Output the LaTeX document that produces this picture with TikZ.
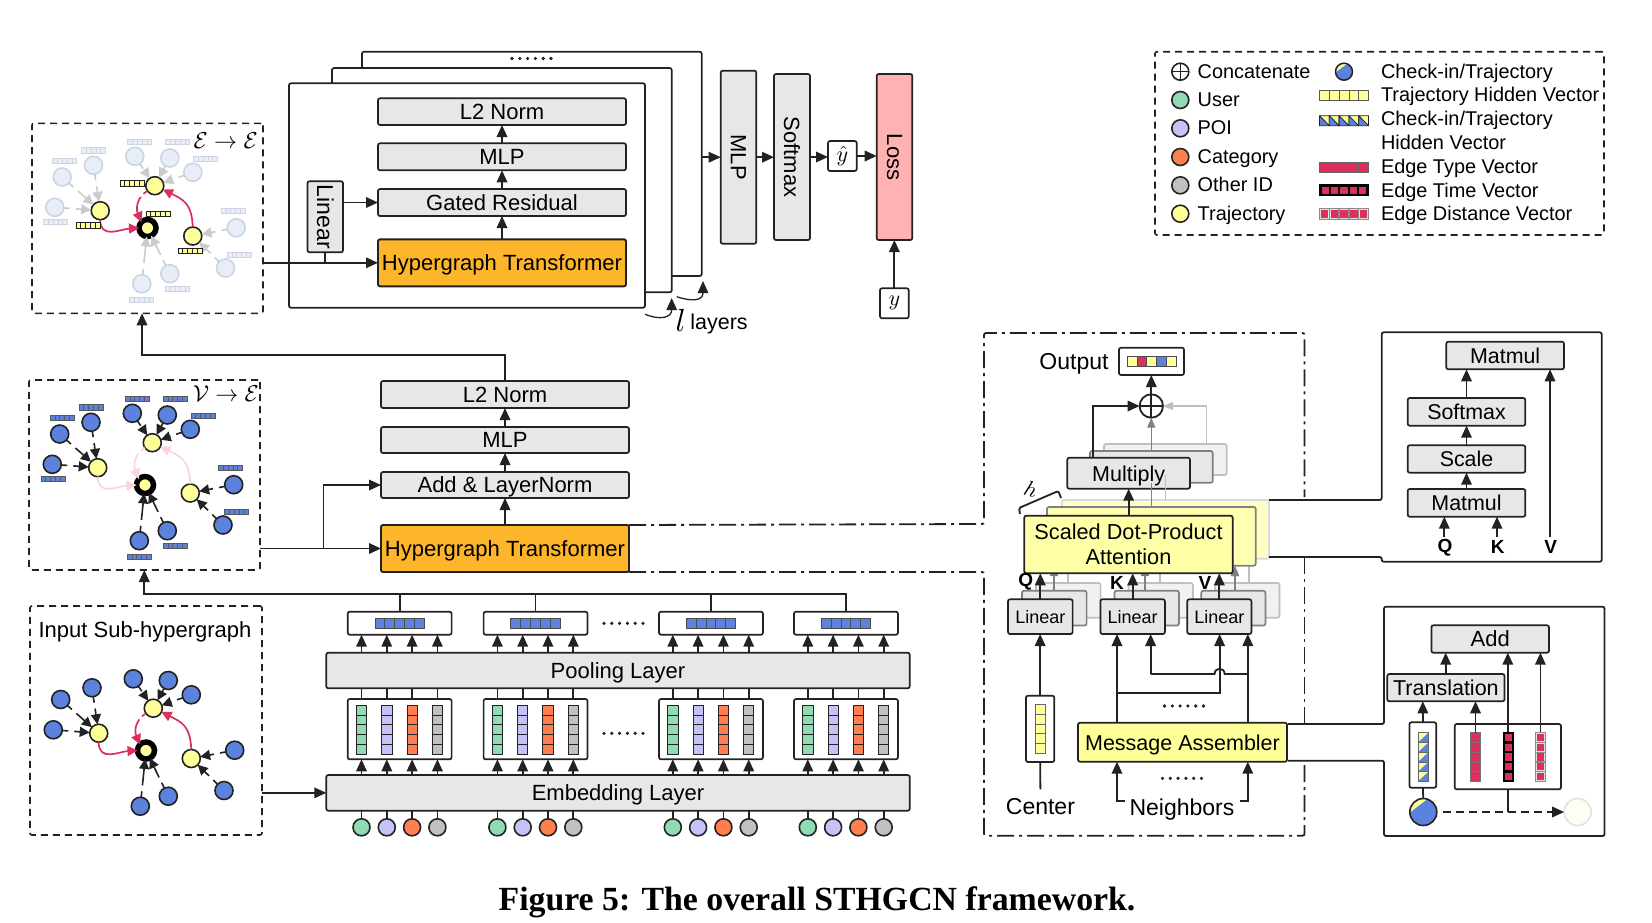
\documentclass[tikz,border=0pt]{standalone}
\usepackage{fontspec}
\setmainfont{Liberation Sans}
\newfontfamily\capfont{Liberation Serif}
\usetikzlibrary{arrows.meta,calc}
\definecolor{boxgray}{HTML}{E6E8E8}
\definecolor{lblack}{HTML}{222222}
\definecolor{orangeb}{HTML}{FDB52B}
\definecolor{cblue}{HTML}{5B82DC}
\definecolor{cyellow}{HTML}{FFFF99}
\definecolor{cuser}{HTML}{90DBB3}
\definecolor{cpoi}{HTML}{C4C2F7}
\definecolor{ccat}{HTML}{FF7F50}
\definecolor{cother}{HTML}{C0C0C0}
\definecolor{cred}{HTML}{DC2F5C}
\definecolor{fadeblue}{HTML}{E8EEF8}
\definecolor{fadeline}{HTML}{CDD5E4}
\definecolor{fadeedge}{HTML}{CCCCCC}
\definecolor{fadered}{HTML}{F9D5DC}
\newcommand{\myfs}[1]{\fontsize{#1}{#1}\selectfont}
\newcommand{\mth}[1]{\myfs{10}$#1$}
\tikzset{
  x=1pt,y=-1pt,
  base/.style={rectangle,rounded corners=2pt,line width=1.7pt,draw=lblack,inner sep=0pt,outer sep=0pt,align=center,anchor=north west},
  gbox/.style={base,fill=boxgray},
  wbox/.style={base,fill=white},
  obox/.style={base,fill=orangeb,line width=1.9pt},
  dbox/.style={base,dash pattern=on 7pt off 5pt,line width=1.6pt},
  sh2/.style={base,fill=boxgray,draw=gray},
  sh3/.style={base,fill=boxgray!60,draw=black!25},
  arr/.style={draw=lblack,line width=1.8pt,-{Triangle[length=12pt,width=10.5pt]}},
  garr/.style={draw=gray,line width=1.4pt,-{Triangle[length=10pt,width=8pt]}},
  larr/.style={draw=black!25,line width=1.4pt,-{Triangle[length=10pt,width=8pt]}},
  plain/.style={draw=lblack,line width=1.8pt},
  dd/.style={draw=lblack,line width=1.8pt,dash pattern=on 17pt off 5pt on 3pt off 5pt},
  dot/.style={circle,draw=lblack,line width=1.6pt,inner sep=0pt,minimum size=17pt,outer sep=0pt},
  lab/.style={inner sep=0pt,outer sep=0pt},
  dotsl/.style={draw=lblack,line width=3.6pt,line cap=round,dash pattern=on 0pt off 7.8pt},
}
% box: name x1 y1 x2 y2 style text
\newcommand{\bx}[7]{%
  \pgfmathsetmacro\bw{#4-#2}\pgfmathsetmacro\bh{#5-#3}%
  \node[#6,text depth=0pt,minimum width=\bw pt,minimum height=\bh pt] (#1) at (#2,#3) {#7};}
\newcommand{\bxr}[7]{%
  \pgfmathsetmacro\bw{#4-#2}\pgfmathsetmacro\bh{#5-#3}%
  \node[#6,minimum width=\bw pt,minimum height=\bh pt] (#1) at (#2,#3) {#7};}
% five-cell vectors: cx cy w h fill draw lw
\newcommand{\vecH}[7]{\begin{scope}[shift={(#1,#2)}]\foreach \k in {0,...,4}{%
  \draw[fill=#5,draw=#6,line width=#7] ({-#3/2+\k*#3/5},{-#4/2}) rectangle ++({#3/5},#4);}\end{scope}}
\newcommand{\vecV}[7]{\begin{scope}[shift={(#1,#2)}]\foreach \k in {0,...,4}{%
  \draw[fill=#5,draw=#6,line width=#7] ({-#3/2},{-#4/2+\k*#4/5}) rectangle ++(#3,{#4/5});}\end{scope}}
% cells with a pale frame round a red core
\newcommand{\vecIH}[4]{\vecH{#1}{#2}{#3}{#4}{black!12}{black!45}{1.3pt}%
  \begin{scope}[shift={(#1,#2)}]\foreach \k in {0,...,4}{%
  \fill[cred] ({-#3/2+\k*#3/5+1.2},{-#4/2+1.2}) rectangle ++({#3/5-2.4},{#4-2.4});}\end{scope}}
\newcommand{\vecIV}[4]{\vecV{#1}{#2}{#3}{#4}{black!12}{black!45}{1.3pt}%
  \begin{scope}[shift={(#1,#2)}]\foreach \k in {0,...,4}{%
  \fill[cred] ({-#3/2+1.2},{-#4/2+\k*#4/5+1.2}) rectangle ++({#3-2.4},{#4/5-2.4});}\end{scope}}
\newcommand{\vecDH}[4]{\begin{scope}[shift={(#1,#2)}]\foreach \k in {0,...,4}{%
  \pgfmathsetmacro\cw{#3/5}\pgfmathsetmacro\cl{-#3/2+\k*\cw}%
  \fill[cyellow] (\cl,{-#4/2}) rectangle ++(\cw,#4);
  \fill[cblue] (\cl,{-#4/2}) -- ({\cl+\cw},{#4/2}) -- (\cl,{#4/2}) -- cycle;
  \draw[lblack,line width=.8pt] (\cl,{-#4/2}) rectangle ++(\cw,#4) (\cl,{-#4/2}) -- ++(\cw,#4);}\end{scope}}
\newcommand{\vecDV}[4]{\begin{scope}[shift={(#1,#2)}]\foreach \k in {0,...,4}{%
  \pgfmathsetmacro\ch{#4/5}\pgfmathsetmacro\ct{-#4/2+\k*\ch}%
  \fill[cyellow] ({-#3/2},\ct) rectangle ++(#3,\ch);
  \fill[cblue] ({#3/2},\ct) -- ({#3/2},{\ct+\ch}) -- ({-#3/2},{\ct+\ch}) -- cycle;
  \draw[black!60,line width=.6pt] ({-#3/2},\ct) rectangle ++(#3,\ch);}\end{scope}}
% the hypergraph: prefix dx dy bluefill blueline edge red
\newcommand{\hg}[7]{\begin{scope}[shift={(#2,#3)},
   nb/.style={dot,fill=#4,draw=#5,minimum size=18pt},
   ny/.style={dot,fill=cyellow,minimum size=18pt},
   ee/.style={draw=#6,line width=1.6pt,dash pattern=on 6pt off 6pt on 40pt,-{Triangle[length=10pt,width=10pt]}},
   rr/.style={draw=#7,line width=1.7pt,-{Triangle[length=10pt,width=10pt]}}]
  \node[nb] (#11) at (59.7,434) {};
  \node[nb] (#12) at (91,422.3) {};
  \node[nb] (#13) at (52.3,464.3) {};
  \node[nb] (#14) at (132.3,413.3) {};
  \node[nb] (#15) at (167.3,415) {};
  \node[nb] (#16) at (190.3,429.3) {};
  \node[nb] (#17) at (233.7,484.7) {};
  \node[nb] (#18) at (223,525) {};
  \node[nb] (#19) at (167.3,530.7) {};
  \node[nb] (#1a) at (139.3,540.7) {};
  \node[ny] (#1x) at (97.7,467.7) {};
  \node[ny] (#1y) at (152.3,442.7) {};
  \node[ny] (#1z) at (190.3,493) {};
  \node[dot,fill=cyellow,line width=5.5pt,draw=black,minimum size=17pt] (#1c) at (145,485) {};
  \foreach \a/\b in {1/x,2/x,3/x,4/y,5/y,6/y,7/z,8/z,9/c,a/c}{\draw[ee] (#1\a) -- (#1\b);}
  \draw[rr] (#1x.south) .. controls +(0,20) and +(-18,1) .. (#1c.west);
  \draw[rr,dash pattern=on 5pt off 4pt on 40pt] (#1y.-145) .. controls +(-10,6) and +(-6,-14) .. (#1c.north west);
  \draw[rr] (#1z.north) .. controls +(-1,-24) and +(20,10) .. (#1y.-25);
\end{scope}}
\newcommand{\vtags}[5]{\begin{scope}[shift={(#1,#2)}]
  \foreach \p/\q in {62.3/418,91/407.3,53/478.7,137.3/399,175.3/399,203/416,230.7/467.7,236.7/511.7,175.3/545.7,139.3/557}{%
    \vecH{\p}{\q}{24}{5.3}{#3}{#4}{#5}}\end{scope}}
% embedding group: id left
\newcommand{\grp}[2]{%
  \pgfmathsetmacro\ga{#2+13.8}%
  \pgfmathsetmacro\gb{#2+103.9}%
  \bx{gt#1}{#2}{611.7}{\gb}{634.7}{wbox}{}
  \bx{gm#1}{#2}{699}{\gb}{759.3}{wbox}{}
  \pgfmathsetmacro\gc{#2+52}%
  \vecH{\gc}{623}{49.4}{10}{cblue}{black!70}{.9pt}
  \foreach \kk/\col in {0/cuser,1/cpoi,2/ccat,3/cother}{%
    \pgfmathsetmacro\cx{\ga+25.3*\kk}%
    \vecV{\cx}{729.8}{10.3}{49}{\col}{lblack}{.9pt}
    \node[dot,fill=\col,minimum size=17pt] (gc#1\kk) at (\cx,827.3) {};
    \draw[plain] (gc#1\kk) -- (embed.south -| gc#1\kk);
    \draw[arr] (embed.north -| gc#1\kk) -- (gm#1.south -| gc#1\kk);
    \draw[plain] (gm#1.north -| gc#1\kk) -- (pool.south -| gc#1\kk);
    \draw[arr] (pool.north -| gc#1\kk) -- (gt#1.south -| gc#1\kk);
  }}
\begin{document}
\begin{tikzpicture}
\useasboundingbox (0,0) rectangle (1652,922);
\fill[white] (0,0) rectangle (1652,922);
\myfs{22}
% stacked layers
\bx{lay2}{362}{51.7}{701.7}{276}{wbox}{}
\bx{lay1}{332}{68}{671.7}{292.3}{wbox}{}
\bx{lay0}{289}{83.3}{645}{307.7}{wbox}{}
\coordinate (ld1) at (512,58.5); \coordinate (ld2) at (552,58.5);
\draw[dotsl] (ld1) -- (ld2);
\bx{l2a}{378}{98.3}{626}{125}{gbox}{L2 Norm}
\bx{mlpa}{378}{143.3}{626}{170.3}{gbox}{MLP}
\bx{gated}{378}{189}{626}{216}{gbox}{Gated Residual}
\bx{hta}{378}{239.3}{626}{286.3}{obox}{Hypergraph Transformer}
\bx{lin}{307.5}{181.3}{343}{252.3}{gbox}{}
\node[lab,rotate=-90] (lintx) at (lin.center) {\myfs{23}Linear};
\draw[arr] (hta.north) -- (gated.south);
\draw[arr] (gated.north) -- (mlpa.south);
\draw[arr] (mlpa.north) -- (l2a.south);
\draw[arr] (gated.west -| lin.east) -- (gated.west);
% E box
\bx{ebox}{32}{123.3}{263}{313.3}{dbox}{}
\node[lab,scale=2.3] (etx) at (225.7,141) {\mth{\mathcal{E}\to\mathcal{E}}};
\draw[arr] (hta.west -| ebox.east) -- (hta.west);
\draw[plain] (lin.south) -- (lin.south |- hta.west);
\vtags{2.5}{-257}{fadeblue}{fadeline}{.7pt}
\hg{e}{2.5}{-257}{fadeblue}{fadeline}{fadeedge}{cred}
\foreach \p/\q in {132/183.3,88/225.3,158/213.7,190/250.7}{\vecH{\p}{\q}{24}{5.5}{cyellow}{lblack}{.9pt}}
% right of layers
\bx{mlpb}{720.7}{70.7}{756.3}{243.7}{gbox}{}
\node[lab,rotate=-90] (mlpbt) at (mlpb.center) {MLP};
\bx{soft}{774}{74}{810}{240}{gbox}{}
\node[lab,rotate=-90] (softt) at (soft.center) {Softmax};
\bx{loss}{876.7}{74}{912.3}{240}{base,fill=red!30}{}
\node[lab,rotate=-90] (losst) at (loss.center) {Loss};
\bxr{yhat}{828}{141}{856.7}{171}{wbox}{\scalebox{2.2}{\mth{\hat y}}}
\bxr{ybox}{880}{288.3}{908.7}{318.3}{wbox}{\scalebox{2.2}{\mth{y}}}
\draw[arr] (mlpb.west -| lay2.east) -- (mlpb.west);
\draw[arr] (mlpb.east) -- (soft.west |- mlpb.east);
\draw[arr] (soft.east) -- (yhat.west |- soft.east);
\draw[arr] (yhat.east) -- (loss.west |- yhat.east);
\draw[arr] (ybox.north) -- (ybox.north |- loss.south);
\coordinate (ca) at (645,314.3); \coordinate (cb) at (671.7,298);
\coordinate (cc) at (676.7,296.7); \coordinate (cd) at (703,281);
\draw[arr,line width=1.3pt] (ca) .. controls +(15,6) and +(0,20) .. (cb);
\draw[arr,line width=1.3pt] (cc) .. controls +(15,5) and +(0,20) .. (cd);
\node[lab,scale=3.2] (ltx) at (680.7,320) {\mth{l}};
\node[lab] (laytx) at (719,323.5) {\myfs{21.5}layers};
% V box
\bx{vbox}{29}{380}{260}{570}{dbox}{}
\node[lab,scale=2.3] (vtx) at (226,394) {\mth{\mathcal{V}\to\mathcal{E}}};
\vtags{0}{0}{cblue}{black!65}{.9pt}
\hg{v}{0}{0}{cblue}{lblack}{lblack}{fadered}
% lower stack
\bx{l2b}{381}{381}{629}{408}{gbox}{L2 Norm}
\bx{mlpc}{381}{427}{629}{453}{gbox}{MLP}
\bx{addln}{381}{472}{629}{498}{gbox}{Add \& LayerNorm}
\bx{htb}{381}{525}{629}{572}{obox}{Hypergraph Transformer}
\draw[arr] (htb.north) -- (addln.south);
\draw[arr] (addln.north) -- (mlpc.south);
\draw[arr] (mlpc.north) -- (l2b.south);
\coordinate (upbus) at (142,355);
\draw[arr] (l2b.north) |- (upbus) -- (ebox.south -| upbus);
\draw[arr] (htb.west -| vbox.east) -- (htb.west);
\coordinate (brx) at (323.5,548.5);
\draw[arr] (brx) |- (addln.west);
% input box
\bx{ibox}{30}{606}{262}{835}{dbox}{}
\node[lab] (intx) at (145,631.5) {\myfs{22}Input Sub-hypergraph};
\hg{i}{1}{265.5}{cblue}{lblack}{lblack}{cred}
% embedding & pooling
\bx{pool}{326.3}{652.7}{909.7}{688.3}{gbox}{Pooling Layer}
\bx{embed}{326.3}{775}{909.7}{810.7}{gbox}{Embedding Layer}
\draw[arr] (embed.west -| ibox.east) -- (embed.west);
\grp{1}{347.7}
\grp{2}{483.6}
\grp{3}{659}
\grp{4}{794}
\coordinate (bus) at (144.3,594);
\draw[arr] (gt4.north) |- (bus) -- (vbox.south -| bus);
\draw[plain] (gt1.north) -- (gt1.north |- bus);
\draw[plain] (gt2.north) -- (gt2.north |- bus);
\draw[plain] (gt3.north) -- (gt3.north |- bus);
\coordinate (dt1) at (604,623.3); \coordinate (dt2) at (643,623.3);
\coordinate (dm1) at (604,733.3); \coordinate (dm2) at (643,733.3);
\draw[dotsl] (dt1) -- (dt2);
\draw[dotsl] (dm1) -- (dm2);
% dash-dot frame
\coordinate (fa) at (984,524); \coordinate (fb) at (984,333); \coordinate (fc) at (1304.5,333);
\coordinate (fd) at (1304.5,497); \coordinate (fe) at (984,572); \coordinate (ff) at (984,835.7);
\coordinate (fg) at (1304.5,835.7); \coordinate (fh) at (1304.5,761); \coordinate (fi) at (1304.5,557);
\coordinate (fj) at (1304.5,724);
\draw[dd,rounded corners=2pt] (htb.north east) -- (fa) -- (fb) -- (fc) -- (fd);
\draw[dd,rounded corners=2pt] (htb.south east) -- (fe) -- (ff) -- (fg) -- (fh);
\draw[dd] (fi) -- (fj);
% multi-head
\node[lab] (outtx) at (1074,364) {\myfs{23}Output};
\bx{outb}{1119}{347.7}{1184}{375}{wbox}{}
\foreach \k/\c in {0/cyellow,1/cred,2/cyellow,3/cblue,4/cyellow}{%
  \draw[fill=\c,draw=black!70,line width=.8pt] ({1127.3+\k*9.74},356) rectangle ++(9.74,10);}
\node[circle,draw=lblack,line width=1.8pt,inner sep=0pt,minimum size=23.4pt,fill=white,outer sep=0pt] (concat) at (1151.3,406) {};
\draw[plain] (concat.north) -- (concat.south) (concat.west) -- (concat.east);
\draw[arr] (concat.north) -- (outb.south -| concat.north);
\bx{mul3}{1104}{444}{1226.7}{475}{sh3}{}
\bx{mul2}{1090}{451}{1212.7}{482.7}{sh2}{}
\bx{mul}{1067.3}{457.7}{1190}{488.7}{gbox}{\myfs{21.5}Multiply}
\draw[garr] (concat.south |- mul2.north) -- (concat.south);
\coordinate (mbx) at (1092.7,458);
\draw[arr] (mbx) |- (concat.west);
\coordinate (m3x) at (1206.7,444);
\draw[larr] (m3x) |- (concat.east);
% linear shadows
\foreach \n/\a/\b in {a/1008/1072.6,b/1100.4/1164.9,c/1187.3/1251.4}{%
  \pgfmathsetmacro\aa{\a+28}\pgfmathsetmacro\bb{\b+28}%
  \pgfmathsetmacro\ac{\a+14}\pgfmathsetmacro\bc{\b+14}%
  \bx{lin3\n}{\aa}{583}{\bb}{617.7}{sh3}{}
  \bx{lin2\n}{\ac}{590.8}{\bc}{625.5}{sh2}{}
}
% lines behind the attention boxes
\foreach \x in {1068,1160,1249}{\draw[draw=black!25,line width=1.4pt] (\x,583) -- (\x,559);}
\foreach \x in {1054,1145,1235}{\draw[garr] (\x,590.8) -- (\x,566);}
% attention
\bxr{att3}{1061.7}{500}{1269}{558.7}{base,fill=cyellow!60,draw=black!15}{}
\bxr{att2}{1047}{507}{1255.7}{565.7}{base,fill=cyellow!75,draw=gray}{}
\draw[garr] (1235,590.8) -- (1235,566);
\bxr{att}{1024.3}{515.7}{1232.7}{573.3}{base,fill=cyellow!85}{\myfs{21.7}Scaled Dot-Product\\[3pt]\myfs{21.7}Attention}
\draw[arr] (att.north -| mul) -- (mul.south);
\draw[draw=gray,line width=1.4pt] (1151.3,507) -- (1151.3,482.7);
\draw[draw=black!25,line width=1.4pt] (1165.7,500) -- (1165.7,475);
\coordinate (brc) at (1020,514); \coordinate (brd) at (1061,498);
\draw[plain,rounded corners=1.5pt] (brc) -- ++(-1,-6) -- (1058.3,491) -- (brd);
\node[lab,scale=2.2,rotate=-18] (htx) at (1031,489) {\mth{h}};
\bx{lina}{1008}{599.3}{1072.6}{634}{gbox}{\myfs{18}Linear}
\bx{linb}{1100.4}{599.3}{1164.9}{634}{gbox}{\myfs{18}Linear}
\bx{linc}{1187.3}{599.3}{1251.4}{634}{gbox}{\myfs{18}Linear}
\coordinate (q1) at (1040.3,0); \coordinate (q2) at (1132.7,0); \coordinate (q3) at (1219.3,0);
\draw[arr] (lina.north -| q1) -- (att.south -| q1);
\draw[arr] (linb.north -| q2) -- (att.south -| q2);
\draw[arr] (linc.north -| q3) -- (att.south -| q3);
\node[lab,scale=1.9] (qa) at (1025.7,582) {\mth{\mathbf{Q}}};
\node[lab,scale=1.9] (ka) at (1117,583.3) {\mth{\mathbf{K}}};
\node[lab,scale=1.9] (va) at (1205,583.3) {\mth{\mathbf{V}}};
% centre
\bx{cvb}{1026}{695.7}{1054.3}{762}{wbox}{}
\vecV{1040.4}{728.8}{10.7}{49}{cyellow}{black!60}{.8pt}
\node[lab] (centx) at (1040.4,807) {\myfs{23}Center};
\draw[arr] (cvb.north) -- (lina.south -| cvb.north);
\coordinate (cent) at (1040.4,789.3);
\draw[plain] (cvb.south) -- (cent);
% message assembler
\bx{ma}{1078}{722.7}{1287}{761.7}{base,fill=cyellow}{\myfs{21.5}Message Assembler}
\node[lab] (neitx) at (1182,810) {\myfs{23}Neighbors};
\coordinate (xa) at (1117,800.7); \coordinate (xb) at (1150.6,674); \coordinate (xc) at (1219.6,693.3); \coordinate (xd) at (1247.8,800.7);
\draw[arr] (ma.north -| xa) -- (linb.south -| xa);
\draw[arr] (ma.north -| xd) -- (linc.south -| xd);
\draw[arr] (xa |- xc) -- (xc) -- (linc.south -| xc);
\draw[plain] (xd |- xb) -- (1224.6,674) .. controls (1224.6,667) and (1214.6,667) .. (1214.6,674) -- (xb);
\draw[arr] (xb) -- (linb.south -| xb);
\coordinate (ne1) at (1125,800.7); \coordinate (ne2) at (1240,800.7);
\draw[arr] (ne1) -- (xa) -- (ma.south -| xa);
\draw[arr] (ne2) -- (xd) -- (ma.south -| xd);
\coordinate (d1) at (1164.5,706); \coordinate (d2) at (1204.5,706);
\coordinate (d3) at (1162.5,778.3); \coordinate (d4) at (1202.5,778.3);
\draw[dotsl] (d1) -- (d2);
\draw[dotsl] (d3) -- (d4);
% scaled dot-product detail
\coordinate (ra) at (1269,500); \coordinate (rb) at (1269,557);
\coordinate (rc) at (1381.7,332.3); \coordinate (rd) at (1601.7,332.3); \coordinate (re) at (1601.7,561.7); \coordinate (rf) at (1381.7,561.7);
\draw[plain,rounded corners=2pt] (ra) -- (1381.7,500) -- (rc) -- (rd) -- (re) -- (rf) -- (1381.7,557) -- (rb);
\bx{mt1}{1446.3}{341.7}{1564}{369.3}{gbox}{\myfs{21.4}Matmul}
\bx{sf}{1407.7}{398}{1525.3}{425.7}{gbox}{\myfs{21.4}Softmax}
\bx{sc}{1407.7}{445.3}{1525.3}{472.7}{gbox}{\myfs{21.4}Scale}
\bx{mt2}{1407.7}{489}{1525.3}{516.7}{gbox}{\myfs{21.4}Matmul}
\draw[arr] (mt2.north) -- (sc.south);
\draw[arr] (sc.north) -- (sf.south);
\draw[arr] (sf.north) -- (mt1.south -| sf.north);
\node[lab,scale=1.9] (qb) at (1445,547.3) {\mth{\mathbf{Q}}};
\node[lab,scale=1.9] (kb) at (1497.7,547.3) {\mth{\mathbf{K}}};
\node[lab,scale=1.9] (vb) at (1550.7,547.3) {\mth{\mathbf{V}}};
\coordinate (qt) at (1444.3,537); \coordinate (kt) at (1497,537); \coordinate (vt) at (1550,537);
\draw[arr] (qt) -- (mt2.south -| qt);
\draw[arr] (kt) -- (mt2.south -| kt);
\draw[arr] (vt) -- (mt1.south -| vt);
% message assembler detail
\coordinate (sa) at (1288,724); \coordinate (sb) at (1288,760.7);
\draw[plain,rounded corners=2pt] (sa) -- (1384,724) -- (1384,606.7) -- (1604.5,606.7) -- (1604.5,836) -- (1384,836) -- (1384,760.7) -- (sb);
\bx{addb}{1431.4}{625.3}{1549}{652.7}{gbox}{Add}
\bx{trans}{1387.3}{674}{1504.5}{701.3}{gbox}{\myfs{21.5}Translation}
\bx{chk}{1409.4}{722.3}{1436.3}{787.7}{wbox}{}
\bx{edg}{1454.7}{724}{1561}{789.3}{wbox}{}
\vecDV{1423.3}{757}{10.6}{48.6}
\vecV{1475.7}{757}{10.2}{48.6}{cred}{black!55}{.7pt}
\vecV{1508.2}{757}{9}{48.6}{cred}{black}{2.2pt}
\vecIV{1540.5}{757}{10}{48.6}
\coordinate (ta) at (1445.7,692); \coordinate (tb) at (1507.8,700); \coordinate (tc) at (1540.4,700);
\coordinate (tr) at (1475.5,733);
\draw[arr] (trans.north -| ta) -- (addb.south -| ta);
\draw[arr] (edg.north -| tb) ++(0,8) -- (addb.south -| tb);
\draw[arr] (edg.north -| tc) ++(0,8) -- (addb.south -| tc);
\draw[arr] (chk.north) -- (trans.south -| chk.north);
\draw[arr] (tr) -- (trans.south -| tr);
% check-in circle
\node[circle,inner sep=0pt,minimum size=27pt,outer sep=0pt] (chkc) at (1423.3,812) {};
\begin{scope}\clip (1423.3,812) circle (13.5);
 \fill[cblue] (1405,790) rectangle (1442,830);
 \fill[cyellow] (1405,816) -- (1434,794) -- (1405,794) -- cycle;
\end{scope}
\draw[lblack,line width=1.6pt] (1423.3,812) circle (13.5);
\draw[plain] (chk.south) -- (chkc.north);
\node[circle,draw=black!12,fill=yellow!5,line width=1.5pt,inner sep=0pt,minimum size=27pt,outer sep=0pt] (ghost) at (1577.6,812) {};
\coordinate (dsh) at (1443,812);
\draw[arr,dash pattern=on 8pt off 5pt] (dsh) -- (ghost.west);
\draw[plain] (edg.south -| tb) -- (tb |- ghost.west);
% legend
\bx{leg}{1155}{51.7}{1604}{235}{dbox}{}
\foreach \i/\c/\t/\y in {2/cuser/User/100,3/cpoi/POI/128.3,4/ccat/Category/157,5/cother/Other ID/185.3,6/cyellow/Trajectory/213.7}{%
  \node[dot,fill=\c] (ls\i) at (1180.3,\y) {};
  \node[lab,anchor=base west] (lt\i) at (1197.7,\y+6.5) {\myfs{19.9}\t};}
\node[dot,fill=white] (ls1) at (1180.3,71.7) {};
\draw[lblack,line width=1.5pt] (ls1.north) -- (ls1.south) (ls1.west) -- (ls1.east);
\node[lab,anchor=base west] (lt1) at (1197.7,78.2) {\myfs{19.9}Concatenate};
\node[circle,inner sep=0pt,minimum size=17pt,outer sep=0pt] (lc) at (1344,71.7) {};
\begin{scope}\clip (1344,71.7) circle (8.5);
 \fill[cblue] (1333,60) rectangle (1356,84);
 \fill[cyellow] (1333,74) -- (1351,61) -- (1333,61) -- cycle;
\end{scope}
\draw[lblack,line width=1.5pt] (1344,71.7) circle (8.5);
\vecH{1344}{95.3}{49}{9.5}{cyellow}{black!65}{.8pt}
\vecDH{1344}{120.7}{49}{10}
\vecH{1344}{167.3}{49}{10}{cred}{black!60}{.8pt}
\vecH{1344}{190.3}{47}{9.5}{cred}{black}{2.2pt}
\vecIH{1344}{214}{49}{10.5}
\foreach \i/\t/\y in {a/Check-in\slash Trajectory/71.7,b/Trajectory Hidden Vector/95,c/Check-in\slash Trajectory/119,d/Hidden Vector/142.7,e/Edge Type Vector/167.3,f/Edge Time Vector/190.7,g/Edge Distance Vector/214}{%
  \node[lab,anchor=base west] (lr\i) at (1381,\y+6.5) {\myfs{19.9}\t};}
% caption
\node[lab] (cap) at (817,902) {\capfont\bfseries\myfs{33.8}Figure 5: The overall STHGCN framework.};
\end{tikzpicture}
\end{document}
